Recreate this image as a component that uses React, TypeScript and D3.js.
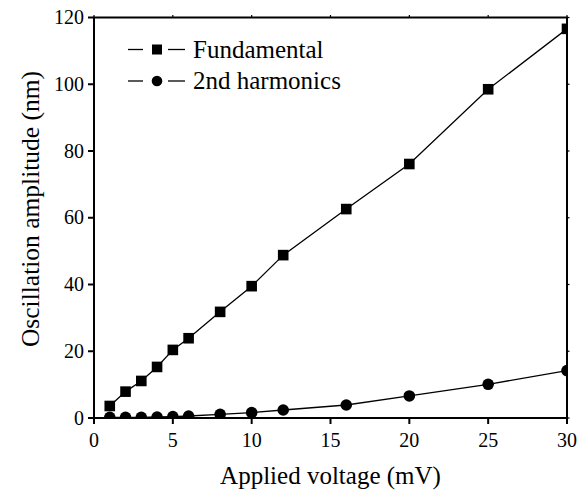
import React from 'react';
import * as d3 from 'd3';

const voltage = [1, 2, 3, 4, 5, 6, 8, 10, 12, 16, 20, 25, 30];
const fundamental = [3.6, 7.9, 11.1, 15.3, 20.4, 23.9, 31.8, 39.5, 48.8, 62.6, 76.1, 98.5, 116.6];
const harmonic2 = [0.2, 0.2, 0.2, 0.3, 0.4, 0.6, 1.1, 1.6, 2.4, 3.9, 6.6, 10.1, 14.2];
const xTicks = [0, 5, 10, 15, 20, 25, 30];
const yTicks = [0, 20, 40, 60, 80, 100, 120];
const legendItems = ['Fundamental', '2nd harmonics'];

const W = 587, H = 492;
const L = 94, R = 567, T = 17.5, B = 418;
const font = 'Liberation Serif, Times New Roman, serif';

export default function App() {
  const x = d3.scaleLinear().domain([0, 30]).range([L, R]);
  const y = d3.scaleLinear().domain([0, 120]).range([B, T]);
  const line = d3.line<number>().x((d, i) => x(voltage[i])).y(d => y(d));
  const legendY = [49.5, 81];

  return (
    <svg width={W} height={H} style={{ position: 'absolute', left: 0, top: 0, background: '#fff' }}>
      <defs>
        <clipPath id="plot">
          <rect x={L} y={T} width={R - L} height={B - T} />
        </clipPath>
      </defs>
      <g clipPath="url(#plot)">
        <path d={line(fundamental) || ''} fill="none" stroke="#000" strokeWidth={1.3} />
        <path d={line(harmonic2) || ''} fill="none" stroke="#000" strokeWidth={1.3} />
        {fundamental.map((v, i) => (
          <rect key={'s' + i} x={x(voltage[i]) - 5.3} y={y(v) - 5.3} width={10.6} height={10.6} fill="#000" />
        ))}
        {harmonic2.map((v, i) => (
          <circle key={'c' + i} cx={x(voltage[i])} cy={y(v)} r={5.8} fill="#000" />
        ))}
      </g>
      <rect x={L} y={T} width={R - L} height={B - T} fill="none" stroke="#000" strokeWidth={2} />
      {xTicks.map(t => (
        <g key={'x' + t}>
          <line x1={x(t)} x2={x(t)} y1={B} y2={B + 6} stroke="#000" strokeWidth={2} />
          <line x1={x(t)} x2={x(t)} y1={T} y2={T - 2.5} stroke="#000" strokeWidth={1.2} />
          <text x={x(t)} y={447} textAnchor="middle" fontFamily={font} fontSize={20}>{t}</text>
        </g>
      ))}
      {yTicks.map(t => (
        <g key={'y' + t}>
          <line x1={L} x2={L - 6} y1={y(t)} y2={y(t)} stroke="#000" strokeWidth={2} />
          <line x1={R} x2={R + 2.5} y1={y(t)} y2={y(t)} stroke="#000" strokeWidth={1.2} />
          <text x={L - 10} y={y(t) + 6.5} textAnchor="end" fontFamily={font} fontSize={20}>{t}</text>
        </g>
      ))}
      <text x={(L + R) / 2} y={484} textAnchor="middle" fontFamily={font} fontSize={25}>Applied voltage (mV)</text>
      <text transform="translate(39, 209) rotate(-90)" textAnchor="middle" fontFamily={font} fontSize={25.5}>Oscillation amplitude (nm)</text>
      {legendItems.map((name, i) => (
        <g key={name}>
          <line x1={128} x2={143} y1={legendY[i]} y2={legendY[i]} stroke="#000" strokeWidth={1.3} />
          <line x1={168} x2={185} y1={legendY[i]} y2={legendY[i]} stroke="#000" strokeWidth={1.3} />
          {i === 0
            ? <rect x={152} y={legendY[i] - 5} width={10} height={10} fill="#000" />
            : <circle cx={157} cy={legendY[i]} r={5.3} fill="#000" />}
          <text x={193} y={legendY[i] + 8} fontFamily={font} fontSize={25}>{name}</text>
        </g>
      ))}
    </svg>
  );
}
